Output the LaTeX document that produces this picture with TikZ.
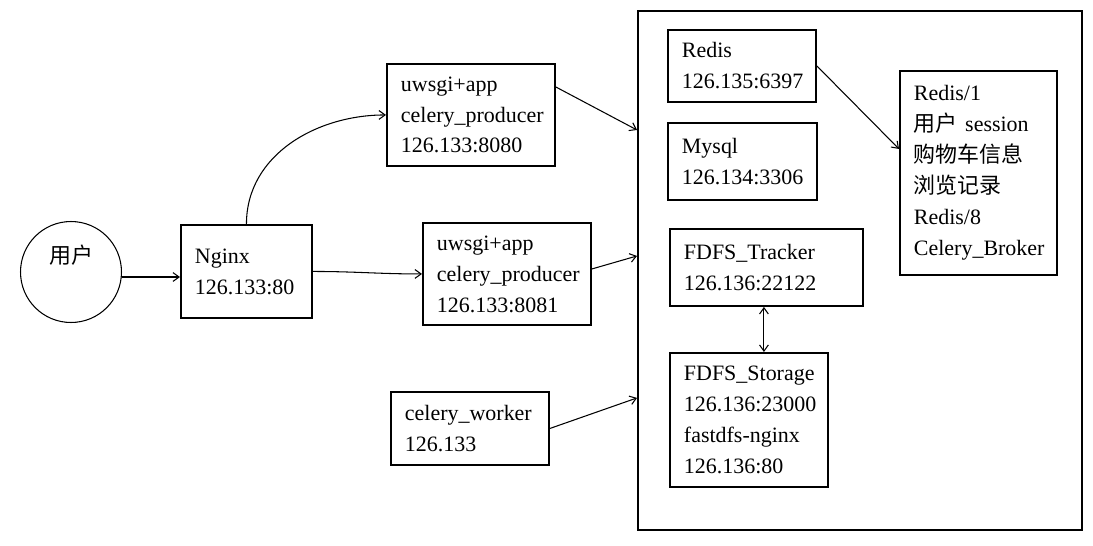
\documentclass[tikz,border=0pt]{standalone}
\usepackage{fontspec}
\setmainfont{Liberation Serif}
\newfontfamily\cjk{Noto Sans CJK SC}
\usetikzlibrary{arrows.meta}

\tikzset{
	host/.style = {draw, line width=1.1pt, anchor=north west, align=left, inner xsep=0.28cm},
	link/.style = {line width=0.6pt, -{Straight Barb[length=3.5pt,width=5pt]}},
	both/.style = {line width=0.6pt, {Straight Barb[length=3.5pt,width=5pt]}-{Straight Barb[length=3.5pt,width=5pt]}},
}

\begin{document}
\begin{tikzpicture}[x=0.02cm, y=-0.02cm, font=\fontsize{12.5pt}{17.6pt}\selectfont]
	\useasboundingbox (0,0) rectangle (1093,545);
	\node[circle, draw, line width=0.6pt, minimum size=2.02cm, align=center] (user) at (71,272) {{\cjk 用户}\\[-3pt]\strut}; %empty line lifts the text
	\node[host, text width=2.06cm, minimum height=1.86cm] (nginx) at (180,224) {Nginx\\126.133:80};
	\node[host, text width=2.8cm, minimum height=2.04cm] (app1) at (386,63) {uwsgi+app\\celery\_producer\\126.133:8080};
	\node[host, text width=2.8cm, minimum height=2.04cm] (app2) at (422,222) {uwsgi+app\\celery\_producer\\126.133:8081};
	\node[host, text width=2.6cm, minimum height=1.46cm] (worker) at (390,391) {celery\_worker\\126.133};
	\node[host, minimum width=8.88cm, minimum height=10.38cm] (cluster) at (637,10) {};
	\node[host, text width=2.4cm, minimum height=1.44cm] (redis) at (667,29) {Redis\\126.135:6397};
	\node[host, text width=2.42cm, minimum height=1.54cm] (mysql) at (667,122) {Mysql\\126.134:3306};
	\node[host, text width=3.3cm, minimum height=1.54cm] (tracker) at (669,228) {FDFS\_Tracker\\126.136:22122};
	\node[host, text width=2.6cm, minimum height=2.68cm] (storage) at (669,352) {FDFS\_Storage\\126.136:23000\\fastdfs-nginx\\126.136:80};
	\node[host, text width=2.58cm, minimum height=4.08cm] (redisdb) at (899,70) {Redis/1\\{\cjk 用户} session\\{\cjk 购物车信息}\\{\cjk 浏览记录}\\Redis/8\\Celery\_Broker};
	%requests
	\draw[link] ([yshift=-0.1cm]user.east) -- ([yshift=-0.1cm]user.east -| nginx.west);
	\draw[link] (nginx.north) to[out=90, in=180] (app1.west);
	\draw[link] (nginx.east) to[out=0, in=180] (app2.west);
	%into the servers
	\draw[link] ([yshift=-0.48cm]app1.north east) -- ([yshift=-2.4cm]cluster.north west);
	\draw[link] ([yshift=0.1cm]app2.east) -- ([yshift=-4.92cm]cluster.north west);
	\draw[link] (worker.east) -- ([yshift=-7.76cm]cluster.north west);
	\draw[link] (redis.east) -- ([yshift=0.48cm]redisdb.west);
	\draw[both] ([xshift=-0.05cm]tracker.south) -- ([xshift=-0.05cm]tracker.south |- storage.north);
\end{tikzpicture}
\end{document}
